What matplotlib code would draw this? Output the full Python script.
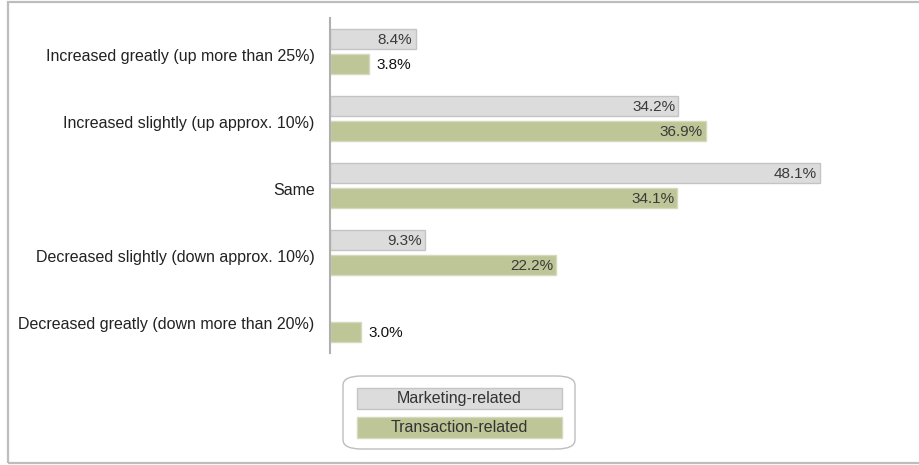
import matplotlib
matplotlib.use('agg')
import matplotlib.pyplot as plt
from matplotlib.patches import Rectangle, FancyBboxPatch
import numpy as np

plt.rcParams['font.family'] = ['Liberation Sans', 'DejaVu Sans']

categories = ['Increased greatly (up more than 25%)',
              'Increased slightly (up approx. 10%)',
              'Same',
              'Decreased slightly (down approx. 10%)',
              'Decreased greatly (down more than 20%)']
marketing = [8.4, 34.2, 48.1, 9.3, None]
transaction = [3.8, 36.9, 34.1, 22.2, 3.0]
series_names = ['Marketing-related', 'Transaction-related']

GRAY = '#dcdcdc'
GRAY_EDGE = '#c4c4c4'
GREEN = '#bec597'
GREEN_EDGE = '#d6dabd'

W, H = 920, 465
fig = plt.figure(figsize=(W / 100, H / 100), dpi=100)

# outer frame
fig.patches.append(Rectangle((8 / W, 2 / H), 1.0, 1 - 4 / H, transform=fig.transFigure,
                             fill=False, edgecolor='#bdbdbd', linewidth=1.6))

ax = fig.add_axes([330 / W, 1 - 353 / H, 550 / W, 335 / H])
y = np.arange(len(categories))
h = 0.3
off = 0.185


def label_bars(ys, vals, color, edge):
    for yy, v in zip(ys, vals):
        if v is None:
            continue
        ax.barh(yy, v, height=h, color=color, edgecolor=edge, linewidth=1)
        txt = f'{v:.1f}%'
        if v < 5:
            ax.text(v + 0.8, yy + 0.02, txt, ha='left', va='center', fontsize=11, color='#111111')
        else:
            ax.text(v - 0.3, yy + 0.02, txt, ha='right', va='center', fontsize=11, color='#3a3a3a')


label_bars(y - off, marketing, GRAY, GRAY_EDGE)
label_bars(y + off, transaction, GREEN, GREEN_EDGE)

ax.set_ylim(len(categories) - 0.5, -0.5)
ax.set_xlim(0, 54)
ax.set_yticks(y + 0.05)
ax.set_yticklabels(categories, fontsize=11.5, color='#222222')
ax.tick_params(axis='y', length=0, pad=11)
ax.set_xticks([])
for s in ['top', 'right', 'bottom']:
    ax.spines[s].set_visible(False)
ax.spines['left'].set_color('#b0b0b0')
ax.spines['left'].set_linewidth(1.5)

# legend box
fig.patches.append(FancyBboxPatch((343 / W, 1 - 449 / H), 232 / W, 73 / H,
                                  boxstyle='round,pad=0,rounding_size=0.02',
                                  transform=fig.transFigure, facecolor='white',
                                  edgecolor='#bdbdbd', linewidth=1))
for top, name, fc, ec in [(388, series_names[0], GRAY, GRAY_EDGE),
                          (417, series_names[1], GREEN, GREEN_EDGE)]:
    fig.patches.append(Rectangle((357 / W, 1 - (top + 21) / H), 205 / W, 21 / H,
                                 transform=fig.transFigure, facecolor=fc,
                                 edgecolor=ec, linewidth=1))
    fig.text(459.5 / W, 1 - (top + 10.5) / H, name, ha='center', va='center',
             fontsize=11.5, color='#333333')

fig.savefig('out.png', dpi=100)
